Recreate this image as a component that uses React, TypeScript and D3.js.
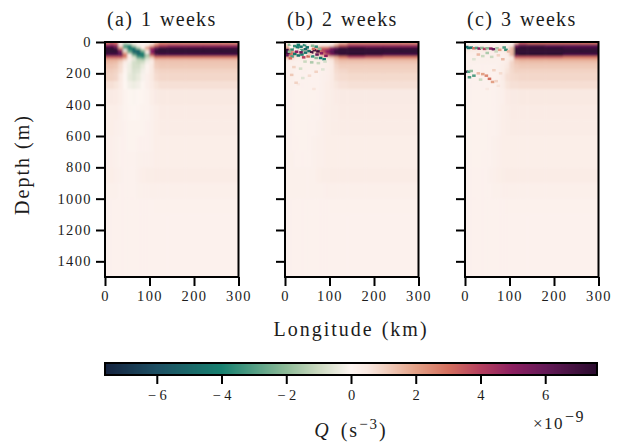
import React, { useEffect, useRef } from 'react';
import * as d3 from 'd3';

// cell edges of the Q sections
const lonEdges = [0, 10, 20, 30, 40, 50, 60, 70, 80, 90, 100, 110, 120, 140, 180, 220, 260, 300];
const depthEdges = [0, 15, 30, 45, 60, 75, 90, 105, 120, 140, 170, 200, 250, 300, 400, 500, 600, 700, 800, 900, 1000, 1100, 1500];

const titles = ['(a) 1 weeks', '(b) 2 weeks', '(c) 3 weeks'];
const lonTicks = [0, 100, 200, 300];
const depthTicks = [0, 200, 400, 600, 800, 1000, 1200, 1400];
const barTicks = [-6, -4, -2, 0, 2, 4, 6];

// Q in 1e-9 s^-3, rows by depth, columns by longitude
const week1 = [
  [3, 3.5, 3, 0.5, -1, -0.5, 0.3, 0.2, 0.1, 0.2, 0.5, 1.5, 2.5, 2.5, 2.5, 2.5, 2.5],
  [5, 5.5, 4.5, 0.5, -3, -3.5, -1, 0.2, 0.2, 0.5, 1.5, 3, 4, 4.5, 4.5, 4.5, 4.5],
  [7.5, 7.5, 6.5, 2, -2.5, -4.5, -4, -1.5, 0.4, 2, 4, 6, 7, 7, 7, 7, 7],
  [7.5, 7.5, 7.5, 4.5, -0.5, -3.5, -5, -4.5, -1.5, 1, 5, 7, 7.5, 7.5, 7.5, 7.5, 7.5],
  [7.5, 7.5, 7.5, 6, 1.5, -2, -5, -5.5, -3.5, 0.2, 5, 7.5, 7.5, 7.5, 7.5, 7.5, 7.5],
  [6.5, 6.5, 6.5, 6, 3, 0.2, -2.5, -4.5, -4.5, -1.5, 3.5, 6, 6.5, 6.5, 6.5, 6.5, 6.5],
  [3.5, 3.5, 3.5, 3.5, 2.5, 0.5, -0.8, -3, -3.5, -1.2, 1.5, 3, 3, 3, 3, 3, 3],
  [1.8, 1.8, 1.8, 1.6, 1, 0.2, -0.5, -1.2, -1.5, -0.5, 0.6, 1.5, 1.5, 1.5, 1.5, 1.5, 1.5],
  [1.5, 1.5, 1.4, 1, 0.4, -0.2, -0.8, -1, -0.8, -0.2, 0.4, 1.2, 1.3, 1.3, 1.3, 1.3, 1.3],
  [1.3, 1.3, 1.2, 0.8, 0.2, -0.3, -0.8, -0.8, -0.4, 0.1, 0.5, 1.1, 1.2, 1.2, 1.2, 1.2, 1.2],
  [1.1, 1.1, 1, 0.7, 0.1, -0.3, -0.7, -0.6, -0.2, 0.1, 0.5, 0.9, 1, 1, 1, 1, 1],
  [1, 1, 0.9, 0.5, 0, -0.4, -0.6, -0.4, -0.1, 0.2, 0.5, 0.8, 0.9, 0.9, 0.9, 0.9, 0.9],
  [0.7, 0.7, 0.6, 0.4, 0, -0.2, -0.3, -0.2, 0, 0.2, 0.4, 0.6, 0.7, 0.7, 0.7, 0.7, 0.7],
  [0.45, 0.45, 0.4, 0.3, 0.1, 0, -0.05, 0, 0.05, 0.1, 0.3, 0.45, 0.5, 0.5, 0.5, 0.5, 0.5],
  [0.3, 0.3, 0.3, 0.2, 0.1, 0.05, 0, 0.05, 0.1, 0.1, 0.2, 0.3, 0.4, 0.4, 0.4, 0.4, 0.4],
  [0.3, 0.3, 0.25, 0.2, 0.15, 0.1, 0.1, 0.1, 0.1, 0.15, 0.2, 0.3, 0.38, 0.38, 0.38, 0.38, 0.38],
  [0.25, 0.25, 0.2, 0.15, 0.15, 0.1, 0.1, 0.15, 0.15, 0.15, 0.2, 0.3, 0.3, 0.3, 0.3, 0.3, 0.3],
  [0.25, 0.25, 0.2, 0.15, 0.15, 0.15, 0.15, 0.2, 0.2, 0.2, 0.25, 0.3, 0.3, 0.3, 0.3, 0.3, 0.3],
  [0.3, 0.3, 0.25, 0.2, 0.15, 0.15, 0.15, 0.25, 0.3, 0.33, 0.35, 0.36, 0.38, 0.38, 0.38, 0.38, 0.38],
  [0.2, 0.2, 0.2, 0.15, 0.15, 0.15, 0.15, 0.2, 0.2, 0.2, 0.25, 0.25, 0.25, 0.25, 0.25, 0.25, 0.25],
  [0.15, 0.15, 0.15, 0.15, 0.15, 0.15, 0.15, 0.15, 0.15, 0.15, 0.15, 0.18, 0.18, 0.18, 0.18, 0.18, 0.18],
  [0.15, 0.15, 0.15, 0.15, 0.15, 0.15, 0.15, 0.15, 0.15, 0.15, 0.15, 0.15, 0.15, 0.15, 0.15, 0.15, 0.15],
];

const week2 = [
  [0.5, 0.3, 0.2, 0.2, 0.2, 0.1, 0.2, 0.1, 0.2, 0.3, 0.3, 0.8, 1.5, 2.5, 2.5, 2.5, 2.5],
  [1, 0.5, 0.2, 0.3, 0.3, 0.3, 0.2, 0.3, 0.5, 0.5, 0.8, 2, 3.5, 4.5, 4.5, 4.5, 4.5],
  [2, 1, 0.5, 0.5, 0.5, 1, 0.5, 2, 3, 3, 5, 6, 7, 7.5, 7, 7, 7],
  [6, 2, 1, 1, 1, 1, 1.5, 3, 4, 5, 6, 7, 7.5, 7.5, 7.5, 7.5, 7.5],
  [7, 3, 1, 1, 1, 1, 1, 2, 3.5, 5, 6.5, 7.5, 7.5, 7.5, 7.5, 7.5, 7.5],
  [5, 3, 1, 1, 0.5, 0.5, 0.5, 1, 2, 3.5, 5, 6, 7, 7.5, 7, 6.5, 6.5],
  [2, 1.5, 0.5, 0.5, 0.5, 0.4, 0.4, 0.5, 1, 1, 1.5, 2, 3, 4, 3.5, 3, 3],
  [0.6, 0.4, 0.3, 0.3, 0.3, 0.3, 0.3, 0.3, 0.3, 0.4, 0.6, 1.3, 1.6, 1.6, 1.6, 1.6, 1.6],
  [0.3, 0.25, 0.2, 0.2, 0.2, 0.2, 0.2, 0.2, 0.25, 0.3, 0.5, 1.1, 1.3, 1.3, 1.3, 1.3, 1.3],
  [0.25, 0.2, 0.2, 0.2, 0.2, 0.2, 0.2, 0.2, 0.2, 0.3, 0.4, 0.9, 1.1, 1.1, 1.1, 1.1, 1.1],
  [0.25, 0.2, 0.15, 0.15, 0.2, 0.15, 0.2, 0.15, 0.2, 0.25, 0.4, 0.8, 0.9, 1, 1, 1, 1],
  [0.25, 0.2, 0.15, 0.15, 0.15, 0.15, 0.15, 0.15, 0.2, 0.25, 0.4, 0.7, 0.8, 0.85, 0.85, 0.85, 0.85],
  [0.2, 0.2, 0.15, 0.15, 0.15, 0.15, 0.15, 0.15, 0.2, 0.3, 0.4, 0.55, 0.65, 0.7, 0.7, 0.7, 0.7],
  [0.15, 0.15, 0.12, 0.12, 0.12, 0.12, 0.12, 0.15, 0.2, 0.3, 0.35, 0.4, 0.45, 0.45, 0.45, 0.45, 0.45],
  [0.15, 0.15, 0.12, 0.12, 0.12, 0.12, 0.15, 0.15, 0.25, 0.3, 0.35, 0.35, 0.4, 0.4, 0.4, 0.4, 0.4],
  [0.2, 0.15, 0.12, 0.12, 0.12, 0.15, 0.15, 0.2, 0.25, 0.3, 0.35, 0.35, 0.38, 0.38, 0.38, 0.38, 0.38],
  [0.2, 0.15, 0.15, 0.12, 0.12, 0.15, 0.2, 0.25, 0.25, 0.3, 0.3, 0.3, 0.3, 0.3, 0.3, 0.3, 0.3],
  [0.2, 0.2, 0.15, 0.15, 0.15, 0.15, 0.2, 0.25, 0.25, 0.3, 0.3, 0.3, 0.3, 0.3, 0.3, 0.3, 0.3],
  [0.2, 0.2, 0.2, 0.2, 0.2, 0.2, 0.2, 0.3, 0.33, 0.35, 0.36, 0.36, 0.38, 0.38, 0.38, 0.38, 0.38],
  [0.2, 0.2, 0.2, 0.2, 0.2, 0.2, 0.2, 0.2, 0.2, 0.25, 0.25, 0.25, 0.25, 0.25, 0.25, 0.25, 0.25],
  [0.15, 0.15, 0.15, 0.15, 0.15, 0.15, 0.15, 0.15, 0.15, 0.15, 0.18, 0.18, 0.18, 0.18, 0.18, 0.18, 0.18],
  [0.15, 0.15, 0.15, 0.15, 0.15, 0.15, 0.15, 0.15, 0.15, 0.15, 0.15, 0.15, 0.15, 0.15, 0.15, 0.15, 0.15],
];

const week3 = [
  [0.1, 0.1, 0.1, 0.1, 0.1, 0.1, 0.1, 0.1, 0.1, 0.1, 0.3, 1.5, 3.5, 3, 3, 3, 3],
  [0.3, 0.2, 0.2, 0.2, 0.2, 0.2, 0.2, 0.2, 0.2, 0.2, 0.5, 5, 6.5, 6.5, 6, 6, 6],
  [0.6, 0.5, 0.5, 0.5, 0.5, 0.5, 0.5, 0.5, 0.5, 0.5, 1.5, 7, 7.5, 7.5, 7.5, 7, 7],
  [0.6, 0.5, 0.5, 0.5, 0.5, 0.5, 0.5, 0.5, 0.5, 0.6, 1.5, 7.5, 7.5, 7.5, 7.5, 7.5, 7.5],
  [0.3, 0.3, 0.3, 0.3, 0.3, 0.3, 0.3, 0.3, 0.3, 0.5, 1.5, 7.5, 7.5, 7.5, 7.5, 7.5, 7.5],
  [0.2, 0.2, 0.2, 0.2, 0.2, 0.2, 0.2, 0.2, 0.2, 0.4, 1.5, 6.5, 7.5, 7.5, 7.5, 6.5, 6.5],
  [0.2, 0.2, 0.2, 0.2, 0.2, 0.2, 0.2, 0.2, 0.2, 0.3, 0.6, 3.5, 3.5, 3.5, 3.5, 3, 3],
  [0.2, 0.2, 0.2, 0.2, 0.2, 0.2, 0.2, 0.2, 0.2, 0.3, 0.6, 1.6, 1.8, 1.8, 1.8, 1.8, 1.8],
  [0.2, 0.2, 0.2, 0.2, 0.2, 0.2, 0.2, 0.2, 0.25, 0.4, 0.9, 1.3, 1.4, 1.4, 1.4, 1.4, 1.4],
  [0.2, 0.15, 0.15, 0.15, 0.15, 0.15, 0.15, 0.2, 0.3, 0.5, 0.9, 1.1, 1.2, 1.2, 1.2, 1.2, 1.2],
  [0.15, 0.15, 0.15, 0.15, 0.15, 0.15, 0.15, 0.2, 0.3, 0.6, 0.85, 1, 1, 1, 1, 1, 1],
  [0.15, 0.15, 0.15, 0.15, 0.15, 0.15, 0.15, 0.2, 0.4, 0.7, 0.8, 0.85, 0.9, 0.9, 0.9, 0.9, 0.9],
  [0.15, 0.15, 0.15, 0.15, 0.15, 0.15, 0.15, 0.2, 0.35, 0.6, 0.7, 0.7, 0.75, 0.75, 0.75, 0.75, 0.75],
  [0.15, 0.12, 0.12, 0.12, 0.12, 0.12, 0.15, 0.2, 0.25, 0.4, 0.45, 0.45, 0.5, 0.5, 0.5, 0.5, 0.5],
  [0.12, 0.12, 0.12, 0.12, 0.12, 0.12, 0.15, 0.2, 0.3, 0.35, 0.4, 0.4, 0.4, 0.4, 0.4, 0.4, 0.4],
  [0.12, 0.12, 0.12, 0.12, 0.12, 0.15, 0.15, 0.2, 0.3, 0.35, 0.38, 0.38, 0.38, 0.38, 0.38, 0.38, 0.38],
  [0.12, 0.12, 0.12, 0.12, 0.12, 0.15, 0.2, 0.25, 0.3, 0.3, 0.3, 0.3, 0.3, 0.3, 0.3, 0.3, 0.3],
  [0.15, 0.12, 0.12, 0.12, 0.15, 0.15, 0.2, 0.25, 0.3, 0.3, 0.3, 0.3, 0.3, 0.3, 0.3, 0.3, 0.3],
  [0.15, 0.15, 0.15, 0.15, 0.15, 0.2, 0.25, 0.3, 0.33, 0.36, 0.38, 0.38, 0.38, 0.38, 0.38, 0.38, 0.38],
  [0.15, 0.15, 0.15, 0.15, 0.15, 0.15, 0.2, 0.2, 0.25, 0.25, 0.25, 0.25, 0.25, 0.25, 0.25, 0.25, 0.25],
  [0.15, 0.15, 0.15, 0.15, 0.15, 0.15, 0.15, 0.15, 0.15, 0.18, 0.18, 0.18, 0.18, 0.18, 0.18, 0.18, 0.18],
  [0.15, 0.15, 0.15, 0.15, 0.15, 0.15, 0.15, 0.15, 0.15, 0.15, 0.15, 0.15, 0.15, 0.15, 0.15, 0.15, 0.15],
];

// small turbulent patches: [longitude km, depth m, Q]
const week2Specks = [
  [4, 52, 7], [6, 68, 7], [4, 84, 6], [10, 18, -2], [16, 12, 0], [22, 26, -3.5], [30, 18, -4], [36, 30, -4.5], [28, 34, -4],
  [44, 20, -3.5], [50, 34, -4.5], [46, 46, -5], [54, 58, -4.5], [46, 68, -4.5], [38, 52, -3], [16, 48, -3.5], [10, 62, -2],
  [22, 76, -4.5], [30, 86, -4.5], [38, 80, -4], [16, 92, -3], [70, 30, -3.5], [62, 24, -2], [78, 44, -2], [80, 102, -4.5],
  [88, 110, -4], [62, 92, -3.5], [70, 102, -2], [24, 50, 0], [32, 60, 0.3], [14, 32, 0], [58, 40, 0], [48, 8, 0],
  [26, 62, 5], [36, 66, 6], [60, 66, 7], [66, 52, 7], [74, 60, 7], [72, 80, 6], [82, 72, 5], [42, 98, 4], [52, 92, 3],
  [92, 88, 5], [12, 104, 3], [56, 78, 1], [64, 44, 3],
  [45, 125, -1], [60, 130, -1.5], [75, 135, -1], [90, 125, -0.8], [20, 160, 1], [35, 170, -0.8], [70, 190, 1], [85, 175, -0.6],
  [15, 210, 1.2], [40, 230, -0.6], [55, 215, 0.8], [30, 270, 0.5], [65, 300, 0.6], [25, 260, 1],
];
const week3Specks = [
  [4, 32, -5], [8, 38, -4.5], [14, 36, -4.5], [20, 40, 3], [26, 38, -3], [32, 42, 5], [38, 38, -2], [44, 44, 4],
  [50, 40, -2], [58, 42, 5], [64, 46, 6], [72, 40, -1.5], [78, 50, 2], [88, 35, -3], [92, 50, -3.5], [98, 60, 1.5],
  [30, 80, 1.5], [40, 90, -1], [50, 70, -1.5], [60, 95, -1], [75, 85, 1], [85, 110, 1.5], [20, 110, -0.6], [70, 60, -1],
  [3, 190, 7], [8, 190, -3], [14, 185, -2], [20, 215, -3], [10, 225, -3], [30, 200, 1.5], [40, 205, 2], [48, 215, 2.5],
  [55, 235, 3], [62, 255, 2], [70, 250, 1], [35, 240, -1], [80, 200, 0.8], [65, 180, 1], [75, 280, 0.6], [50, 300, 0.5],
];
const week1Specks: number[][] = [];

const panels = [
  { title: titles[0], rows: week1, specks: week1Specks, left: 105 },
  { title: titles[1], rows: week2, specks: week2Specks, left: 285 },
  { title: titles[2], rows: week3, specks: week3Specks, left: 465 },
];

const colorValues = [-7.6, -6, -4, -2, -1, 0, 0.5, 1, 2, 3, 4, 5, 6, 7.6];
const colorStops = ['#15233f', '#1d4f63', '#17806f', '#8ebb98', '#cbd9c0', '#fdf5f1', '#f9e9e2', '#f2d3c4', '#e3a187', '#d4705f', '#b5405f', '#8c1f60', '#651a58', '#2a0b2e'];

const color = d3.scaleLinear<string>().domain(colorValues).range(colorStops).interpolate(d3.interpolateRgb).clamp(true);

const panelW = 133.5;
const top = 42;
const bottom = 277;
const FONT = '"Liberation Serif", serif';
const INK = '#1c1c1c';

const lonScale = d3.scaleLinear().domain([0, 300]).range([0, panelW]);
const depthScale = d3.scaleLinear().domain([0, 1500]).range([top, bottom]);
const barScale = d3.scaleLinear().domain([-7.6, 7.6]).range([105, 597]);

const barPixels = d3.range(105, 597);

function Section({ panel, idx }: { panel: (typeof panels)[number]; idx: number }) {
  const xRef = useRef<SVGGElement>(null);
  const yRef = useRef<SVGGElement>(null);

  useEffect(() => {
    const xAxis = d3.axisBottom(lonScale).tickValues(lonTicks).tickSize(9).tickPadding(5).tickFormat(d3.format('d') as any);
    const yAxis = d3.axisLeft(depthScale).tickValues(depthTicks).tickSize(9).tickPadding(4)
      .tickFormat((idx === 0 ? d3.format('d') : () => '') as any);
    for (const [ref, axis] of [[xRef, xAxis], [yRef, yAxis]] as any[]) {
      const g = d3.select(ref.current);
      g.call(axis);
      g.select('.domain').remove();
      g.selectAll('line').attr('stroke', '#000').attr('stroke-width', 2);
      g.selectAll('text').attr('font-family', FONT).attr('font-size', 14.5).attr('fill', INK).attr('letter-spacing', 1.4);
    }
  }, [idx]);

  const clipId = 'clip' + idx;
  return (
    <g transform={`translate(${panel.left},0)`}>
      <clipPath id={clipId}>
        <rect x={0} y={top} width={panelW} height={bottom - top} />
      </clipPath>
      <g clipPath={`url(#${clipId})`}>
        <g filter="url(#soft)">
          {panel.rows.map((row, r) =>
            row.map((q, c) => {
              // first cells run past the frame so the blur does not fade at the edges
              const x0 = c === 0 ? lonScale(lonEdges[c]) - 8 : lonScale(lonEdges[c]);
              const x1 = c === row.length - 1 ? lonScale(lonEdges[c + 1]) + 8 : lonScale(lonEdges[c + 1]);
              const y0 = r === 0 ? depthScale(depthEdges[r]) - 8 : depthScale(depthEdges[r]);
              const y1 = r === panel.rows.length - 1 ? depthScale(depthEdges[r + 1]) + 8 : depthScale(depthEdges[r + 1]);
              return <rect key={r + '-' + c} x={x0} y={y0} width={x1 - x0 + 0.5} height={y1 - y0 + 0.5} fill={color(q)} />;
            })
          )}
        </g>
        <g filter="url(#softer)">
          {panel.specks.map(([lon, depth, q], i) => (
            <rect
              key={i}
              x={lonScale(lon - 4)}
              y={depthScale(depth - 8)}
              width={lonScale(8)}
              height={depthScale(16) - depthScale(0)}
              fill={color(q)}
            />
          ))}
        </g>
      </g>
      <rect x={0} y={top} width={panelW} height={bottom - top} fill="none" stroke="#000" strokeWidth={2} />
      <g ref={xRef} transform={`translate(0,${bottom})`} />
      <g ref={yRef} />
      <text x={2} y={26} fontFamily={FONT} fontSize={20} letterSpacing={1.3} wordSpacing={1.5} fill={INK}>
        {panel.title}
      </text>
    </g>
  );
}

export default function App() {
  const barRef = useRef<SVGGElement>(null);

  useEffect(() => {
    document.body.style.margin = '0';
    const g = d3.select(barRef.current as SVGGElement);
    g.call(d3.axisBottom(barScale).tickValues(barTicks).tickSize(9).tickPadding(6).tickFormat((d: any) => (d < 0 ? '− ' + -d : String(d))) as any);
    g.select('.domain').remove();
    g.selectAll('line').attr('stroke', '#000').attr('stroke-width', 2);
    g.selectAll('text').attr('font-family', FONT).attr('font-size', 14.5).attr('fill', INK);
  }, []);

  return (
    <svg width={621} height={443} style={{ display: 'block', background: '#fff' }}>
      <defs>
        <filter id="soft" x="-10%" y="-10%" width="120%" height="120%">
          <feGaussianBlur stdDeviation="1.2" />
        </filter>
        <filter id="softer" x="-10%" y="-10%" width="120%" height="120%">
          <feGaussianBlur stdDeviation="0.6" />
        </filter>
      </defs>

      {panels.map((p, i) => (
        <Section key={p.title} panel={p} idx={i} />
      ))}

      <text
        transform="translate(29,164.5) rotate(-90)"
        textAnchor="middle"
        fontFamily={FONT}
        fontSize={20}
        letterSpacing={2}
        fill={INK}
      >
        Depth (m)
      </text>
      <text x={351} y={336} textAnchor="middle" fontFamily={FONT} fontSize={20} letterSpacing={2} wordSpacing={1} fill={INK}>
        Longitude (km)
      </text>

      {barPixels.map(px => (
        <rect key={px} x={px} y={363} width={1.4} height={12} fill={color(barScale.invert(px + 0.5))} shapeRendering="crispEdges" />
      ))}
      <rect x={barScale(-7.6)} y={363} width={barScale(7.6) - barScale(-7.6)} height={12} fill="none" stroke="#000" strokeWidth={2} />
      <g ref={barRef} transform="translate(0,375)" />

      <text x={351} y={437} textAnchor="middle" fontFamily={FONT} fontSize={20} fill={INK} letterSpacing={2}>
        <tspan fontStyle="italic">Q</tspan>
        <tspan dx={10}>(s</tspan>
        <tspan fontSize={15} dy={-8}>−3</tspan>
        <tspan dy={8}>)</tspan>
      </text>
      <text x={533} y={429} fontFamily={FONT} fontSize={17} fill={INK} letterSpacing={1.5}>
        ×10
        <tspan fontSize={16} dy={-7} dx={1}>−9</tspan>
      </text>
    </svg>
  );
}
